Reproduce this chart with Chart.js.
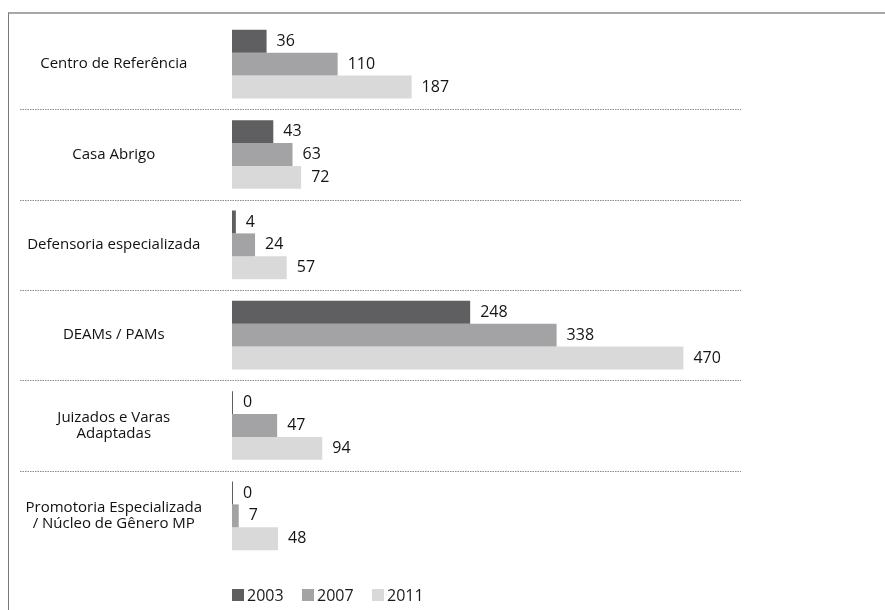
<!DOCTYPE html>
<html>
<head>
<meta charset="utf-8">
<script src="https://cdn.jsdelivr.net/npm/chart.js@4.4.1/dist/chart.umd.min.js"></script>
<style>
    html, body { margin: 0; padding: 0; background: #fff; }
    #wrap { position: relative; width: 885px; height: 610px; overflow: hidden; }
    #frame { position: absolute; left: 8px; top: 12px; width: 900px; height: 620px;
             border-top: 2px solid #a8a8a8; border-left: 1px solid #7a7a7a; }
    #chart { position: absolute; left: 0; top: 0; }
    #legend { position: absolute; left: 232px; top: 584px; display: flex;
              font-family: "Open Sans", sans-serif; font-size: 16px; color: #1a1a1a; }
    #legend .item { display: flex; align-items: center; width: 70px; }
    #legend .box { width: 12px; height: 12px; margin-right: 3px; }
</style>
</head>
<body>
<div id="wrap">
    <div id="frame"></div>
    <canvas id="chart" width="885" height="610"></canvas>
    <div id="legend"></div>
</div>
<script>
const categorias = [
    "Centro de Referência",
    "Casa Abrigo",
    "Defensoria especializada",
    "DEAMs / PAMs",
    ["Juizados e Varas", "Adaptadas"],
    ["Promotoria Especializada", "/ Núcleo de Gênero MP"]
];
const anos = ["2003", "2007", "2011"];
const valores2003 = [36, 43, 4, 248, 0, 0];
const valores2007 = [110, 63, 24, 338, 47, 7];
const valores2011 = [187, 72, 57, 470, 94, 48];
const cores = ["#5f5f61", "#a3a3a5", "#d9d9da"];

const fonte = '"Open Sans", "Noto Sans", sans-serif';

// dotted separators between the groups, across the label column too
const separadores = {
    id: "separadores",
    afterDraw(chart) {
        const y = chart.scales.y;
        const c = chart.ctx;
        c.save();
        c.strokeStyle = "#8c8c8c";
        c.lineWidth = 1;
        c.setLineDash([1.5, 1]);
        for (let i = 0; i < categorias.length - 1; i += 1) {
            const py = Math.round((y.getPixelForValue(i) + y.getPixelForValue(i + 1)) / 2) + 0.5;
            c.beginPath();
            c.moveTo(20, py);
            c.lineTo(chart.chartArea.right, py);
            c.stroke();
        }
        c.restore();
    }
};

const rotulosValores = {
    id: "rotulosValores",
    afterDatasetsDraw(chart) {
        const c = chart.ctx;
        c.save();
        c.fillStyle = "#151515";
        c.textBaseline = "middle";
        c.textAlign = "left";
        c.font = "16px " + fonte;
        chart.data.datasets.forEach((ds, di) => {
            chart.getDatasetMeta(di).data.forEach((bar, i) => {
                c.fillText(String(ds.data[i]), bar.x + 10, bar.y);
            });
        });
        c.restore();
    }
};

const datasets = [valores2003, valores2007, valores2011].map((vals, i) => ({
    label: anos[i],
    data: vals,
    backgroundColor: cores[i],
    borderWidth: 0,
    minBarLength: 1,
    barPercentage: 1,
    categoryPercentage: 0.76
}));

new Chart(document.getElementById("chart").getContext("2d"), {
    type: "bar",
    data: { labels: categorias, datasets },
    options: {
        indexAxis: "y",
        responsive: false,
        animation: false,
        layout: { padding: { top: 19, bottom: 49, left: 20, right: 144 } },
        plugins: {
            legend: { display: false },
            tooltip: { enabled: false }
        },
        scales: {
            x: {
                display: false,
                min: 0,
                max: 530
            },
            y: {
                border: { display: false },
                grid: { display: false, drawTicks: false },
                ticks: {
                    crossAlign: "center",
                    padding: 30,
                    color: "#111",
                    font: { family: fonte, size: 15, lineHeight: 1.1 }
                },
                afterFit: (scale) => {
                    scale.width = 212;
                    scale.paddingTop = 0;
                    scale.paddingBottom = 0;
                }
            }
        }
    },
    plugins: [separadores, rotulosValores]
});

const legenda = document.getElementById("legend");
anos.forEach((ano, i) => {
    const item = document.createElement("div");
    item.className = "item";
    item.innerHTML = `<span class="box" style="background:${cores[i]}"></span><span>${ano}</span>`;
    legenda.appendChild(item);
});
</script>
</body>
</html>
